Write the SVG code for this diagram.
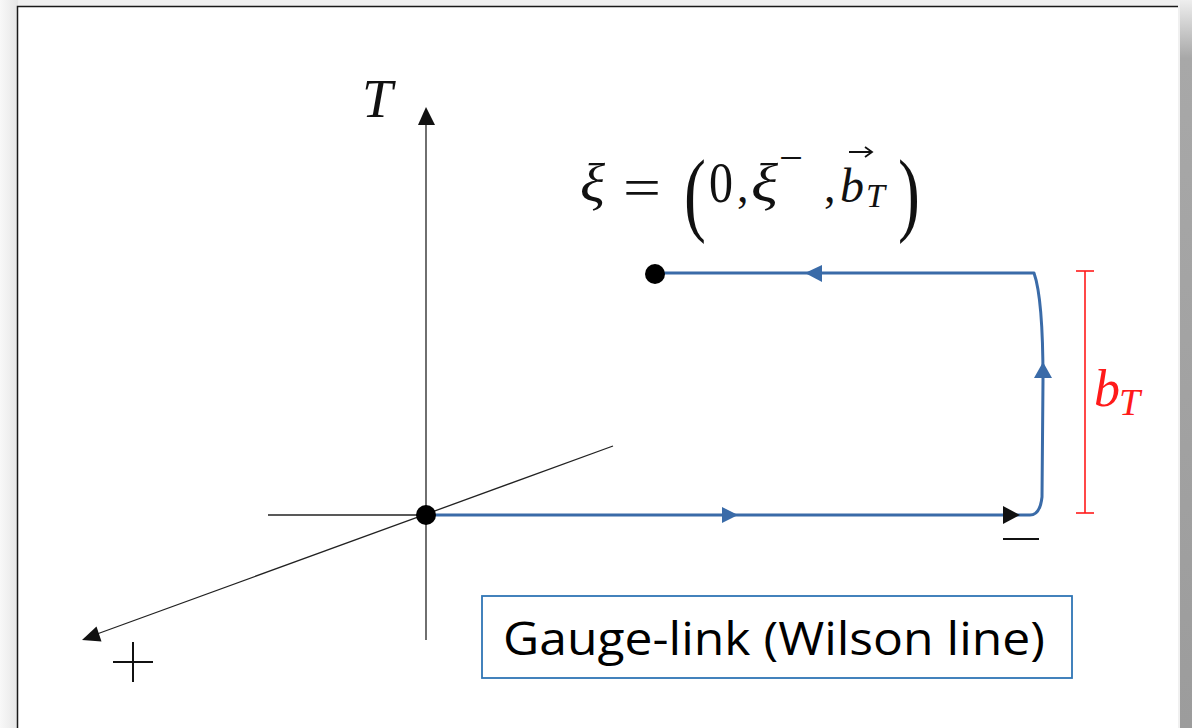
<svg xmlns="http://www.w3.org/2000/svg" width="1192" height="728" viewBox="0 0 1192 728">
<defs>
<linearGradient id="gl" x1="0" y1="0" x2="1" y2="0"><stop offset="0" stop-color="#f8f8f8"/><stop offset="1" stop-color="#e6e6e6"/></linearGradient>
<linearGradient id="gr" x1="0" y1="0" x2="0" y2="1"><stop offset="0" stop-color="#eeeeee"/><stop offset="0.08" stop-color="#a8a8a8"/><stop offset="1" stop-color="#9c9c9c"/></linearGradient>
<style>
.ax{stroke:#222;stroke-width:1.3;fill:none}
.wl{stroke:#3a6ba8;stroke-width:3;fill:none;stroke-linejoin:round}
.ba{fill:#3a6ba8}
.m{font-family:"Liberation Serif","DejaVu Serif",serif;fill:#111}
.i{font-style:italic}
.red{fill:#ff1a1a}
</style>
</defs>
<rect x="0" y="0" width="1192" height="728" fill="#f0f0f0"/>
<rect x="0" y="0" width="18" height="728" fill="url(#gl)"/>
<rect x="1180" y="0" width="12" height="728" fill="url(#gr)"/>
<rect x="18" y="7" width="1160" height="730" fill="#ffffff"/>
<path d="M17.5,740 V6.5 H1178" stroke="#1a1a1a" stroke-width="1.5" fill="none"/>

<g id="axes">
<line class="ax" x1="426" y1="640" x2="426" y2="122"/>
<polygon points="426,107 418,125 435,125" fill="#111"/>
<line class="ax" x1="268" y1="515" x2="426" y2="515"/>
<line class="ax" x1="613" y1="446" x2="97" y2="634"/>
<polygon points="82,640 96.5,626.5 101.5,641.5" fill="#111"/>
<text class="m i" x="362" y="117" font-size="55" textLength="41">T</text>
<g stroke="#111" stroke-width="2"><line x1="113" y1="662" x2="153" y2="662"/><line x1="133" y1="642" x2="133" y2="682"/></g>
<line x1="1003" y1="539" x2="1039" y2="539" stroke="#111" stroke-width="2.2"/>
</g>

<g id="connectors">
<path class="wl" d="M426,515 H1030 Q1040,515 1042,497 L1043,380 C1043,320 1040,290 1034,273 H660"/>
<polygon class="ba" points="738,515 722,507 722,523"/>
<polygon class="ba" points="805,273 822,265 822,282"/>
<polygon class="ba" points="1043,362 1034,378 1052,378"/>
<polygon points="1020,515 1003,506 1003,524" fill="#111"/>
</g>

<g id="origin"><circle cx="426" cy="515" r="10" fill="#000"/></g>
<g id="endpoint"><circle cx="655" cy="274" r="10" fill="#000"/></g>

<g id="formula" class="m">
<text class="i" x="580" y="202" font-size="54" textLength="25" lengthAdjust="spacingAndGlyphs">ξ</text>
<text x="623" y="206" font-size="54" textLength="38" lengthAdjust="spacingAndGlyphs">=</text>
<text x="684" y="224" font-size="94" transform="translate(684,0) scale(0.7,1) translate(-684,0)">(</text>
<text x="709" y="202" font-size="58" textLength="24" lengthAdjust="spacingAndGlyphs">0</text>
<text x="737" y="202" font-size="46">,</text>
<text class="i" x="751" y="202" font-size="54" textLength="27" lengthAdjust="spacingAndGlyphs">ξ</text>
<text x="779" y="171" font-size="40" textLength="24" lengthAdjust="spacingAndGlyphs">−</text>
<text x="824" y="202" font-size="46">,</text>
<text class="i" x="840" y="202" font-size="48">b</text>
<path d="M849,152 H871 M865,147 L872,152 L865,157" stroke="#111" stroke-width="1.8" fill="none"/>
<text class="i" x="866" y="207" font-size="34">T</text>
<text x="898" y="224" font-size="94" transform="translate(898,0) scale(0.7,1) translate(-898,0)">)</text>
</g>

<g id="bT">
<g stroke="#ff1a1a" stroke-width="1.6"><line x1="1085" y1="271" x2="1085" y2="513"/><line x1="1076" y1="271" x2="1094" y2="271"/><line x1="1076" y1="513" x2="1094" y2="513"/></g>
<text class="m i red" x="1094" y="406" font-size="52">b</text>
<text class="m i red" x="1119" y="415" font-size="38">T</text>
</g>

<g id="label">
<rect x="482" y="596" width="590" height="82" fill="#fff" stroke="#2f75b5" stroke-width="1.8"/>
<text x="503" y="655" font-family="'Open Sans','Liberation Sans',sans-serif" font-size="46" textLength="542" lengthAdjust="spacingAndGlyphs" fill="#000">Gauge-link (Wilson line)</text>
</g>
</svg>
